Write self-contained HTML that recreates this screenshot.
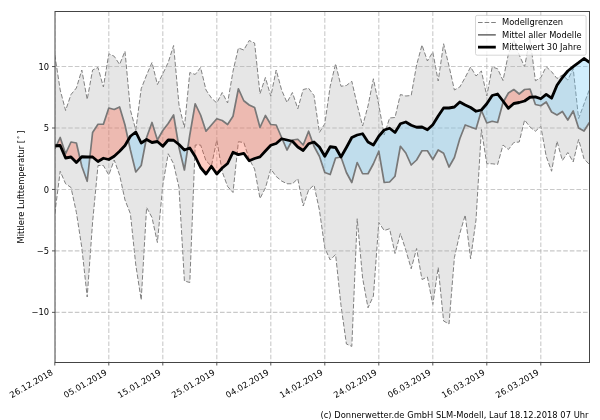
<!DOCTYPE html>
<html lang="de"><head><meta charset="utf-8"><title>Mittlere Lufttemperatur</title>
<style>
html,body{margin:0;padding:0;background:#fff;}
body{width:600px;height:420px;overflow:hidden;}
svg{display:block;}
text{font-family:"DejaVu Sans","Liberation Sans",sans-serif;font-size:8.33px;fill:#000;}
</style></head><body>
<svg width="600" height="420" viewBox="0 0 600 420">
<rect x="0" y="0" width="600" height="420" fill="#ffffff"/>
<defs><clipPath id="ax"><rect x="55.0" y="11.5" width="534.5" height="351.0"/></clipPath></defs>
<g clip-path="url(#ax)">
<polygon points="54.80,55.00 60.20,90.00 65.60,110.50 71.00,94.50 76.40,88.00 81.80,70.00 87.20,99.50 92.60,70.00 98.00,67.50 103.40,87.00 108.80,53.75 114.20,56.25 119.60,64.50 125.00,51.25 130.40,110.00 135.80,130.00 141.20,88.75 146.60,75.00 152.00,62.50 157.40,84.50 162.80,73.75 168.20,62.50 173.60,45.50 179.00,105.00 184.40,127.50 189.80,72.50 195.20,74.50 200.60,67.50 206.00,90.00 211.40,98.00 216.80,103.00 222.20,92.50 227.60,103.00 233.00,71.25 238.40,48.00 243.80,50.00 249.20,40.50 254.60,43.00 260.00,93.75 265.40,77.50 270.80,96.25 276.20,70.00 281.60,90.00 287.00,102.50 292.40,92.50 297.80,108.75 303.20,89.50 308.60,88.25 314.00,95.50 319.40,132.50 324.80,123.75 330.20,86.25 335.60,63.75 341.00,86.25 346.40,85.50 351.80,81.25 357.20,105.00 362.60,126.00 368.00,106.00 373.40,78.75 378.80,105.00 384.20,135.00 389.60,118.00 395.00,117.50 400.40,94.50 405.80,96.00 411.20,95.50 416.60,65.00 422.00,45.00 427.40,61.00 432.80,52.00 438.20,81.00 443.60,43.75 449.00,66.00 454.40,90.00 459.80,87.00 465.20,77.50 470.60,67.00 476.00,76.00 481.40,71.00 486.80,96.00 492.20,67.00 497.60,68.75 503.00,80.50 508.40,54.00 513.80,40.00 519.20,55.00 524.60,66.70 530.00,38.00 535.40,80.80 540.80,77.50 546.20,66.70 551.60,71.70 557.00,78.50 562.40,75.00 567.80,80.00 573.20,68.50 578.60,118.50 584.00,104.00 589.40,89.50 589.40,164.50 584.00,158.75 578.60,139.50 573.20,162.00 567.80,152.50 562.40,160.50 557.00,141.25 551.60,171.25 546.20,156.25 540.80,126.25 535.40,131.25 530.00,127.00 524.60,120.00 519.20,142.00 513.80,142.50 508.40,149.50 503.00,145.00 497.60,164.50 492.20,163.75 486.80,163.75 481.40,129.50 476.00,220.00 470.60,258.75 465.20,215.00 459.80,233.50 454.40,257.50 449.00,324.00 443.60,321.00 438.20,267.50 432.80,304.50 427.40,277.00 422.00,279.50 416.60,248.50 411.20,268.75 405.80,250.00 400.40,233.50 395.00,253.50 389.60,228.75 384.20,230.50 378.80,222.50 373.40,296.00 368.00,307.80 362.60,278.00 357.20,218.75 351.80,346.40 346.40,344.00 341.00,305.50 335.60,254.50 330.20,260.00 324.80,248.00 319.40,210.00 314.00,185.00 308.60,190.00 303.20,206.00 297.80,178.75 292.40,183.75 287.00,183.75 281.60,181.00 276.20,176.50 270.80,169.00 265.40,188.00 260.00,198.50 254.60,169.00 249.20,159.00 243.80,142.50 238.40,141.70 233.00,192.50 227.60,186.50 222.20,171.70 216.80,140.00 211.40,166.00 206.00,160.80 200.60,145.00 195.20,145.00 189.80,282.50 184.40,281.00 179.00,187.50 173.60,163.75 168.20,153.75 162.80,185.00 157.40,242.50 152.00,217.50 146.60,207.50 141.20,300.00 135.80,265.00 130.40,213.75 125.00,200.00 119.60,175.00 114.20,160.00 108.80,175.00 103.40,165.50 98.00,165.50 92.60,222.00 87.20,297.00 81.80,247.50 76.40,212.50 71.00,187.50 65.60,183.75 60.20,171.25 54.80,213.75" fill="#e6e6e6"/>
<polyline points="54.80,55.00 60.20,90.00 65.60,110.50 71.00,94.50 76.40,88.00 81.80,70.00 87.20,99.50 92.60,70.00 98.00,67.50 103.40,87.00 108.80,53.75 114.20,56.25 119.60,64.50 125.00,51.25 130.40,110.00 135.80,130.00 141.20,88.75 146.60,75.00 152.00,62.50 157.40,84.50 162.80,73.75 168.20,62.50 173.60,45.50 179.00,105.00 184.40,127.50 189.80,72.50 195.20,74.50 200.60,67.50 206.00,90.00 211.40,98.00 216.80,103.00 222.20,92.50 227.60,103.00 233.00,71.25 238.40,48.00 243.80,50.00 249.20,40.50 254.60,43.00 260.00,93.75 265.40,77.50 270.80,96.25 276.20,70.00 281.60,90.00 287.00,102.50 292.40,92.50 297.80,108.75 303.20,89.50 308.60,88.25 314.00,95.50 319.40,132.50 324.80,123.75 330.20,86.25 335.60,63.75 341.00,86.25 346.40,85.50 351.80,81.25 357.20,105.00 362.60,126.00 368.00,106.00 373.40,78.75 378.80,105.00 384.20,135.00 389.60,118.00 395.00,117.50 400.40,94.50 405.80,96.00 411.20,95.50 416.60,65.00 422.00,45.00 427.40,61.00 432.80,52.00 438.20,81.00 443.60,43.75 449.00,66.00 454.40,90.00 459.80,87.00 465.20,77.50 470.60,67.00 476.00,76.00 481.40,71.00 486.80,96.00 492.20,67.00 497.60,68.75 503.00,80.50 508.40,54.00 513.80,40.00 519.20,55.00 524.60,66.70 530.00,38.00 535.40,80.80 540.80,77.50 546.20,66.70 551.60,71.70 557.00,78.50 562.40,75.00 567.80,80.00 573.20,68.50 578.60,118.50 584.00,104.00 589.40,89.50" fill="none" stroke="#808080" stroke-width="1.0" stroke-dasharray="4.6 2" stroke-linejoin="round"/>
<polyline points="54.80,213.75 60.20,171.25 65.60,183.75 71.00,187.50 76.40,212.50 81.80,247.50 87.20,297.00 92.60,222.00 98.00,165.50 103.40,165.50 108.80,175.00 114.20,160.00 119.60,175.00 125.00,200.00 130.40,213.75 135.80,265.00 141.20,300.00 146.60,207.50 152.00,217.50 157.40,242.50 162.80,185.00 168.20,153.75 173.60,163.75 179.00,187.50 184.40,281.00 189.80,282.50 195.20,145.00 200.60,145.00 206.00,160.80 211.40,166.00 216.80,140.00 222.20,171.70 227.60,186.50 233.00,192.50 238.40,141.70 243.80,142.50 249.20,159.00 254.60,169.00 260.00,198.50 265.40,188.00 270.80,169.00 276.20,176.50 281.60,181.00 287.00,183.75 292.40,183.75 297.80,178.75 303.20,206.00 308.60,190.00 314.00,185.00 319.40,210.00 324.80,248.00 330.20,260.00 335.60,254.50 341.00,305.50 346.40,344.00 351.80,346.40 357.20,218.75 362.60,278.00 368.00,307.80 373.40,296.00 378.80,222.50 384.20,230.50 389.60,228.75 395.00,253.50 400.40,233.50 405.80,250.00 411.20,268.75 416.60,248.50 422.00,279.50 427.40,277.00 432.80,304.50 438.20,267.50 443.60,321.00 449.00,324.00 454.40,257.50 459.80,233.50 465.20,215.00 470.60,258.75 476.00,220.00 481.40,129.50 486.80,163.75 492.20,163.75 497.60,164.50 503.00,145.00 508.40,149.50 513.80,142.50 519.20,142.00 524.60,120.00 530.00,127.00 535.40,131.25 540.80,126.25 546.20,156.25 551.60,171.25 557.00,141.25 562.40,160.50 567.80,152.50 573.20,162.00 578.60,139.50 584.00,158.75 589.40,164.50" fill="none" stroke="#808080" stroke-width="1.0" stroke-dasharray="4.6 2" stroke-linejoin="round"/>
<line x1="54.80" y1="11.5" x2="54.80" y2="362.5" stroke="#b0b0b0" stroke-opacity="0.68" stroke-width="1.1" stroke-dasharray="4.6 2"/>
<line x1="108.80" y1="11.5" x2="108.80" y2="362.5" stroke="#b0b0b0" stroke-opacity="0.68" stroke-width="1.1" stroke-dasharray="4.6 2"/>
<line x1="162.80" y1="11.5" x2="162.80" y2="362.5" stroke="#b0b0b0" stroke-opacity="0.68" stroke-width="1.1" stroke-dasharray="4.6 2"/>
<line x1="216.80" y1="11.5" x2="216.80" y2="362.5" stroke="#b0b0b0" stroke-opacity="0.68" stroke-width="1.1" stroke-dasharray="4.6 2"/>
<line x1="270.80" y1="11.5" x2="270.80" y2="362.5" stroke="#b0b0b0" stroke-opacity="0.68" stroke-width="1.1" stroke-dasharray="4.6 2"/>
<line x1="324.80" y1="11.5" x2="324.80" y2="362.5" stroke="#b0b0b0" stroke-opacity="0.68" stroke-width="1.1" stroke-dasharray="4.6 2"/>
<line x1="378.80" y1="11.5" x2="378.80" y2="362.5" stroke="#b0b0b0" stroke-opacity="0.68" stroke-width="1.1" stroke-dasharray="4.6 2"/>
<line x1="432.80" y1="11.5" x2="432.80" y2="362.5" stroke="#b0b0b0" stroke-opacity="0.68" stroke-width="1.1" stroke-dasharray="4.6 2"/>
<line x1="486.80" y1="11.5" x2="486.80" y2="362.5" stroke="#b0b0b0" stroke-opacity="0.68" stroke-width="1.1" stroke-dasharray="4.6 2"/>
<line x1="540.80" y1="11.5" x2="540.80" y2="362.5" stroke="#b0b0b0" stroke-opacity="0.68" stroke-width="1.1" stroke-dasharray="4.6 2"/>
<line x1="55.0" y1="66.55" x2="589.5" y2="66.55" stroke="#b0b0b0" stroke-opacity="0.68" stroke-width="1.1" stroke-dasharray="4.6 2"/>
<line x1="55.0" y1="128.00" x2="589.5" y2="128.00" stroke="#b0b0b0" stroke-opacity="0.68" stroke-width="1.1" stroke-dasharray="4.6 2"/>
<line x1="55.0" y1="189.45" x2="589.5" y2="189.45" stroke="#b0b0b0" stroke-opacity="0.68" stroke-width="1.1" stroke-dasharray="4.6 2"/>
<line x1="55.0" y1="250.90" x2="589.5" y2="250.90" stroke="#b0b0b0" stroke-opacity="0.68" stroke-width="1.1" stroke-dasharray="4.6 2"/>
<line x1="55.0" y1="312.35" x2="589.5" y2="312.35" stroke="#b0b0b0" stroke-opacity="0.68" stroke-width="1.1" stroke-dasharray="4.6 2"/>
<polygon points="56.36,145.68 60.20,137.50 65.60,153.75 71.00,142.00 76.40,143.00 80.03,158.63 80.03,158.63 76.40,162.50 71.00,157.00 65.60,158.00 60.20,145.50 56.36,145.68" fill="rgb(255,85,55)" fill-opacity="0.3"/>
<polygon points="89.89,157.00 92.60,132.50 98.00,124.25 103.40,124.25 108.80,108.00 114.20,109.50 119.60,107.00 125.00,125.00 128.23,139.96 128.23,139.96 125.00,145.50 119.60,151.25 114.20,156.25 108.80,159.50 103.40,158.25 98.00,161.50 92.60,157.00 89.89,157.00" fill="rgb(255,85,55)" fill-opacity="0.3"/>
<polygon points="146.16,139.79 146.60,137.50 152.00,122.50 157.40,140.00 162.80,130.50 168.20,123.50 173.60,115.00 178.43,144.05 178.43,144.05 173.60,140.25 168.20,140.00 162.80,146.25 157.40,141.50 152.00,142.50 146.60,139.50 146.16,139.79" fill="rgb(255,85,55)" fill-opacity="0.3"/>
<polygon points="187.67,148.79 189.80,135.00 195.20,103.75 200.60,115.00 206.00,131.25 211.40,125.00 216.80,118.75 222.20,120.50 227.60,124.50 233.00,116.25 238.40,88.75 243.80,100.75 249.20,105.00 254.60,107.50 260.00,127.50 265.40,115.50 270.80,124.50 276.20,125.00 281.60,137.50 282.20,138.89 282.20,138.89 281.60,138.75 276.20,143.50 270.80,145.25 265.40,151.00 260.00,156.85 254.60,158.50 249.20,160.75 243.80,153.30 238.40,154.60 233.00,152.25 227.60,163.50 222.20,168.00 216.80,174.00 211.40,166.30 206.00,174.00 200.60,167.50 195.20,156.50 189.80,148.00 187.67,148.79" fill="rgb(255,85,55)" fill-opacity="0.3"/>
<polygon points="291.80,141.11 292.40,140.00 297.80,139.25 303.20,145.00 308.60,131.25 312.63,142.44 312.63,142.44 308.60,143.75 303.20,150.50 297.80,147.00 292.40,141.25 291.80,141.11" fill="rgb(255,85,55)" fill-opacity="0.3"/>
<polygon points="503.48,101.65 508.40,93.00 513.80,89.50 519.20,94.00 524.60,89.50 530.00,89.00 532.80,97.04 532.80,97.04 530.00,97.25 524.60,101.00 519.20,102.50 513.80,103.50 508.40,108.30 503.48,101.65" fill="rgb(255,85,55)" fill-opacity="0.3"/>
<polygon points="54.80,149.00 56.36,145.68 56.36,145.68 54.80,145.75" fill="rgb(120,204,247)" fill-opacity="0.35"/>
<polygon points="80.03,158.63 81.80,166.25 87.20,181.25 89.89,157.00 89.89,157.00 87.20,157.00 81.80,156.75 80.03,158.63" fill="rgb(120,204,247)" fill-opacity="0.35"/>
<polygon points="128.23,139.96 130.40,150.00 135.80,172.00 141.20,165.50 146.16,139.79 146.16,139.79 141.20,143.00 135.80,132.00 130.40,136.25 128.23,139.96" fill="rgb(120,204,247)" fill-opacity="0.35"/>
<polygon points="178.43,144.05 179.00,147.50 184.40,170.00 187.67,148.79 187.67,148.79 184.40,150.00 179.00,144.50 178.43,144.05" fill="rgb(120,204,247)" fill-opacity="0.35"/>
<polygon points="282.20,138.89 287.00,150.00 291.80,141.11 291.80,141.11 287.00,140.00 282.20,138.89" fill="rgb(120,204,247)" fill-opacity="0.35"/>
<polygon points="312.63,142.44 314.00,146.25 319.40,156.25 324.80,172.50 330.20,174.50 335.60,158.00 341.00,157.00 341.00,157.00 335.60,147.50 330.20,146.75 324.80,156.25 319.40,147.00 314.00,142.00 312.63,142.44" fill="rgb(120,204,247)" fill-opacity="0.35"/>
<polygon points="341.00,157.00 346.40,172.50 351.80,182.50 357.20,162.50 362.60,173.75 368.00,173.75 373.40,163.75 378.80,151.25 384.20,182.50 389.60,182.00 395.00,176.25 400.40,146.25 405.80,153.00 411.20,165.00 416.60,160.00 422.00,150.75 427.40,150.75 432.80,159.50 438.20,150.00 443.60,153.25 449.00,167.00 454.40,157.50 459.80,138.75 465.20,125.00 470.60,127.00 476.00,129.00 481.40,110.50 486.80,123.00 492.20,121.25 497.60,122.50 503.00,102.50 503.48,101.65 503.48,101.65 503.00,101.00 497.60,94.00 492.20,95.50 486.80,103.75 481.40,110.00 476.00,111.25 470.60,107.50 465.20,105.00 459.80,102.00 454.40,107.00 449.00,108.00 443.60,108.00 438.20,116.00 432.80,124.75 427.40,129.75 422.00,127.00 416.60,127.25 411.20,125.25 405.80,122.00 400.40,123.75 395.00,132.50 389.60,128.25 384.20,130.00 378.80,136.25 373.40,145.00 368.00,142.00 362.60,133.75 357.20,135.00 351.80,137.50 346.40,147.50 341.00,157.00" fill="rgb(120,204,247)" fill-opacity="0.35"/>
<polygon points="532.80,97.04 535.40,104.50 540.80,105.75 546.20,102.00 551.60,112.00 557.00,115.00 562.40,111.50 567.80,120.00 573.20,111.00 578.60,128.00 584.00,131.00 589.40,122.50 589.40,62.30 584.00,58.50 578.60,62.70 573.20,66.70 567.80,71.00 562.40,77.50 557.00,85.30 551.60,98.15 546.20,94.35 540.80,98.75 535.40,96.85 532.80,97.04" fill="rgb(120,204,247)" fill-opacity="0.35"/>
<polyline points="54.80,149.00 60.20,137.50 65.60,153.75 71.00,142.00 76.40,143.00 81.80,166.25 87.20,181.25 92.60,132.50 98.00,124.25 103.40,124.25 108.80,108.00 114.20,109.50 119.60,107.00 125.00,125.00 130.40,150.00 135.80,172.00 141.20,165.50 146.60,137.50 152.00,122.50 157.40,140.00 162.80,130.50 168.20,123.50 173.60,115.00 179.00,147.50 184.40,170.00 189.80,135.00 195.20,103.75 200.60,115.00 206.00,131.25 211.40,125.00 216.80,118.75 222.20,120.50 227.60,124.50 233.00,116.25 238.40,88.75 243.80,100.75 249.20,105.00 254.60,107.50 260.00,127.50 265.40,115.50 270.80,124.50 276.20,125.00 281.60,137.50 287.00,150.00 292.40,140.00 297.80,139.25 303.20,145.00 308.60,131.25 314.00,146.25 319.40,156.25 324.80,172.50 330.20,174.50 335.60,158.00 341.00,157.00 346.40,172.50 351.80,182.50 357.20,162.50 362.60,173.75 368.00,173.75 373.40,163.75 378.80,151.25 384.20,182.50 389.60,182.00 395.00,176.25 400.40,146.25 405.80,153.00 411.20,165.00 416.60,160.00 422.00,150.75 427.40,150.75 432.80,159.50 438.20,150.00 443.60,153.25 449.00,167.00 454.40,157.50 459.80,138.75 465.20,125.00 470.60,127.00 476.00,129.00 481.40,110.50 486.80,123.00 492.20,121.25 497.60,122.50 503.00,102.50 508.40,93.00 513.80,89.50 519.20,94.00 524.60,89.50 530.00,89.00 535.40,104.50 540.80,105.75 546.20,102.00 551.60,112.00 557.00,115.00 562.40,111.50 567.80,120.00 573.20,111.00 578.60,128.00 584.00,131.00 589.40,122.50" fill="none" stroke="#787878" stroke-width="1.7" stroke-linejoin="round"/>
<polyline points="54.80,145.75 60.20,145.50 65.60,158.00 71.00,157.00 76.40,162.50 81.80,156.75 87.20,157.00 92.60,157.00 98.00,161.50 103.40,158.25 108.80,159.50 114.20,156.25 119.60,151.25 125.00,145.50 130.40,136.25 135.80,132.00 141.20,143.00 146.60,139.50 152.00,142.50 157.40,141.50 162.80,146.25 168.20,140.00 173.60,140.25 179.00,144.50 184.40,150.00 189.80,148.00 195.20,156.50 200.60,167.50 206.00,174.00 211.40,166.30 216.80,174.00 222.20,168.00 227.60,163.50 233.00,152.25 238.40,154.60 243.80,153.30 249.20,160.75 254.60,158.50 260.00,156.85 265.40,151.00 270.80,145.25 276.20,143.50 281.60,138.75 287.00,140.00 292.40,141.25 297.80,147.00 303.20,150.50 308.60,143.75 314.00,142.00 319.40,147.00 324.80,156.25 330.20,146.75 335.60,147.50 341.00,157.00 346.40,147.50 351.80,137.50 357.20,135.00 362.60,133.75 368.00,142.00 373.40,145.00 378.80,136.25 384.20,130.00 389.60,128.25 395.00,132.50 400.40,123.75 405.80,122.00 411.20,125.25 416.60,127.25 422.00,127.00 427.40,129.75 432.80,124.75 438.20,116.00 443.60,108.00 449.00,108.00 454.40,107.00 459.80,102.00 465.20,105.00 470.60,107.50 476.00,111.25 481.40,110.00 486.80,103.75 492.20,95.50 497.60,94.00 503.00,101.00 508.40,108.30 513.80,103.50 519.20,102.50 524.60,101.00 530.00,97.25 535.40,96.85 540.80,98.75 546.20,94.35 551.60,98.15 557.00,85.30 562.40,77.50 567.80,71.00 573.20,66.70 578.60,62.70 584.00,58.50 589.40,62.30" fill="none" stroke="#000" stroke-width="2.8" stroke-linejoin="round" stroke-linecap="square"/>
</g>
<rect x="55.0" y="11.5" width="534.5" height="351.0" fill="none" stroke="#444444" stroke-width="1"/>
<line x1="54.80" y1="362.5" x2="54.80" y2="365.5" stroke="#444444" stroke-width="0.9"/>
<line x1="108.80" y1="362.5" x2="108.80" y2="365.5" stroke="#444444" stroke-width="0.9"/>
<line x1="162.80" y1="362.5" x2="162.80" y2="365.5" stroke="#444444" stroke-width="0.9"/>
<line x1="216.80" y1="362.5" x2="216.80" y2="365.5" stroke="#444444" stroke-width="0.9"/>
<line x1="270.80" y1="362.5" x2="270.80" y2="365.5" stroke="#444444" stroke-width="0.9"/>
<line x1="324.80" y1="362.5" x2="324.80" y2="365.5" stroke="#444444" stroke-width="0.9"/>
<line x1="378.80" y1="362.5" x2="378.80" y2="365.5" stroke="#444444" stroke-width="0.9"/>
<line x1="432.80" y1="362.5" x2="432.80" y2="365.5" stroke="#444444" stroke-width="0.9"/>
<line x1="486.80" y1="362.5" x2="486.80" y2="365.5" stroke="#444444" stroke-width="0.9"/>
<line x1="540.80" y1="362.5" x2="540.80" y2="365.5" stroke="#444444" stroke-width="0.9"/>
<line x1="52.0" y1="66.55" x2="55.0" y2="66.55" stroke="#444444" stroke-width="0.9"/>
<line x1="52.0" y1="128.00" x2="55.0" y2="128.00" stroke="#444444" stroke-width="0.9"/>
<line x1="52.0" y1="189.45" x2="55.0" y2="189.45" stroke="#444444" stroke-width="0.9"/>
<line x1="52.0" y1="250.90" x2="55.0" y2="250.90" stroke="#444444" stroke-width="0.9"/>
<line x1="52.0" y1="312.35" x2="55.0" y2="312.35" stroke="#444444" stroke-width="0.9"/>
<rect x="475.5" y="15.4" width="110.6" height="39.8" rx="1.7" ry="1.7" fill="#ffffff" fill-opacity="0.8" stroke="#cccccc" stroke-width="0.8"/>
<line x1="478" y1="22.5" x2="495.8" y2="22.5" stroke="#808080" stroke-width="1.2" stroke-dasharray="4.6 2"/>
<line x1="478" y1="34.85" x2="495.8" y2="34.85" stroke="#787878" stroke-width="1.7"/>
<line x1="478" y1="47.15" x2="495.8" y2="47.15" stroke="#000" stroke-width="2.8"/>
<g opacity="0.999">
<text x="49.0" y="69.65" text-anchor="end">10</text>
<text x="49.0" y="131.10" text-anchor="end">5</text>
<text x="49.0" y="192.55" text-anchor="end">0</text>
<text x="49.0" y="254.00" text-anchor="end">−5</text>
<text x="49.0" y="315.45" text-anchor="end">−10</text>
<text transform="translate(53.70,374.1) rotate(-30)" text-anchor="end" textLength="48.4" lengthAdjust="spacing">26.12.2018</text>
<text transform="translate(107.70,374.1) rotate(-30)" text-anchor="end" textLength="48.4" lengthAdjust="spacing">05.01.2019</text>
<text transform="translate(161.70,374.1) rotate(-30)" text-anchor="end" textLength="48.4" lengthAdjust="spacing">15.01.2019</text>
<text transform="translate(215.70,374.1) rotate(-30)" text-anchor="end" textLength="48.4" lengthAdjust="spacing">25.01.2019</text>
<text transform="translate(269.70,374.1) rotate(-30)" text-anchor="end" textLength="48.4" lengthAdjust="spacing">04.02.2019</text>
<text transform="translate(323.70,374.1) rotate(-30)" text-anchor="end" textLength="48.4" lengthAdjust="spacing">14.02.2019</text>
<text transform="translate(377.70,374.1) rotate(-30)" text-anchor="end" textLength="48.4" lengthAdjust="spacing">24.02.2019</text>
<text transform="translate(431.70,374.1) rotate(-30)" text-anchor="end" textLength="48.4" lengthAdjust="spacing">06.03.2019</text>
<text transform="translate(485.70,374.1) rotate(-30)" text-anchor="end" textLength="48.4" lengthAdjust="spacing">16.03.2019</text>
<text transform="translate(539.70,374.1) rotate(-30)" text-anchor="end" textLength="48.4" lengthAdjust="spacing">26.03.2019</text>
<text transform="translate(24.3,243.5) rotate(-90)" x="0" y="0">Mittlere Lufttemperatur [<tspan x="106.1" dy="-2" text-anchor="middle" style="font-size:6.5px"> ° </tspan><tspan x="109.8" dy="2">]</tspan></text>
<text x="588.5" y="418" text-anchor="end" textLength="268" lengthAdjust="spacing">(c) Donnerwetter.de GmbH SLM-Modell, Lauf 18.12.2018 07 Uhr</text>
<text x="502.1" y="25.4">Modellgrenzen</text>
<text x="502.1" y="37.8">Mittel aller Modelle</text>
<text x="502.1" y="50.3">Mittelwert 30 Jahre</text>
</g>
</svg></body></html>
